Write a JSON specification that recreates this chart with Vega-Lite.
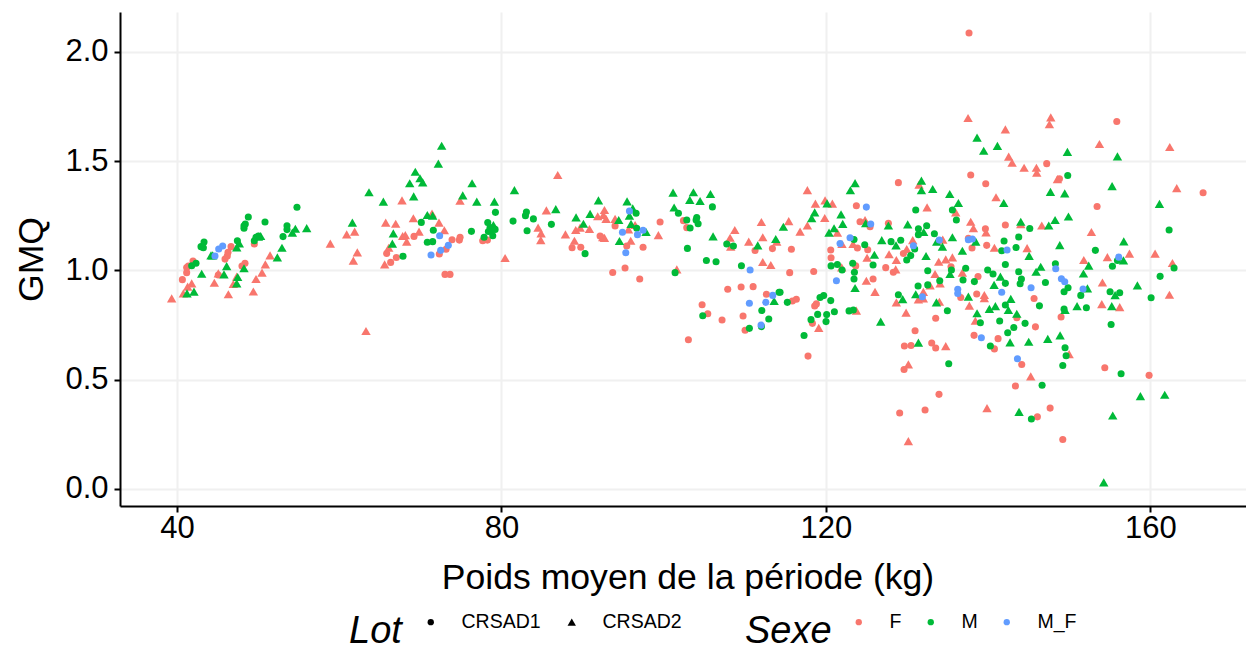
{"$schema":"https://vega.github.io/schema/vega-lite/v6.json","width":1126,"height":494,"autosize":{"type":"none"},"padding":{"left":120,"top":12,"right":0,"bottom":142},"background":"white","config":{"view":{"stroke":null},"font":"Liberation Sans"},
"data":{"values":[
{"x":39.34,"y":0.872,"lot":"CRSAD2","sexe":"F"},{"x":40.78,"y":0.895,"lot":"CRSAD2","sexe":"F"},{"x":41.31,"y":0.926,"lot":"CRSAD2","sexe":"F"},{"x":41.81,"y":0.941,"lot":"CRSAD2","sexe":"F"},{"x":44.6,"y":0.944,"lot":"CRSAD2","sexe":"F"},{"x":45.09,"y":0.987,"lot":"CRSAD2","sexe":"F"},{"x":46.33,"y":0.891,"lot":"CRSAD2","sexe":"F"},{"x":46.94,"y":0.938,"lot":"CRSAD2","sexe":"F"},{"x":47.36,"y":0.972,"lot":"CRSAD2","sexe":"F"},{"x":49.41,"y":0.904,"lot":"CRSAD2","sexe":"F"},{"x":49.74,"y":0.961,"lot":"CRSAD2","sexe":"F"},{"x":50.48,"y":0.99,"lot":"CRSAD2","sexe":"F"},{"x":50.89,"y":1.028,"lot":"CRSAD2","sexe":"F"},{"x":51.47,"y":1.069,"lot":"CRSAD2","sexe":"F"},{"x":58.9,"y":1.123,"lot":"CRSAD2","sexe":"F"},{"x":60.92,"y":1.165,"lot":"CRSAD2","sexe":"F"},{"x":61.9,"y":1.178,"lot":"CRSAD2","sexe":"F"},{"x":62.23,"y":1.083,"lot":"CRSAD2","sexe":"F"},{"x":61.74,"y":1.045,"lot":"CRSAD2","sexe":"F"},{"x":63.3,"y":0.723,"lot":"CRSAD2","sexe":"F"},{"x":65.6,"y":1.028,"lot":"CRSAD2","sexe":"F"},{"x":66.1,"y":1.104,"lot":"CRSAD2","sexe":"F"},{"x":65.73,"y":1.219,"lot":"CRSAD2","sexe":"F"},{"x":66.96,"y":1.214,"lot":"CRSAD2","sexe":"F"},{"x":67.74,"y":1.321,"lot":"CRSAD2","sexe":"F"},{"x":69.14,"y":1.239,"lot":"CRSAD2","sexe":"F"},{"x":67.82,"y":1.158,"lot":"CRSAD2","sexe":"F"},{"x":68.15,"y":1.162,"lot":"CRSAD2","sexe":"F"},{"x":68.32,"y":1.132,"lot":"CRSAD2","sexe":"F"},{"x":69.84,"y":1.178,"lot":"CRSAD2","sexe":"F"},{"x":71.44,"y":1.261,"lot":"CRSAD2","sexe":"F"},{"x":72.3,"y":1.219,"lot":"CRSAD2","sexe":"F"},{"x":72.96,"y":1.184,"lot":"CRSAD2","sexe":"F"},{"x":74.89,"y":1.319,"lot":"CRSAD2","sexe":"F"},
{"x":40.66,"y":0.958,"lot":"CRSAD1","sexe":"F"},{"x":41.19,"y":0.99,"lot":"CRSAD1","sexe":"F"},{"x":41.19,"y":1.014,"lot":"CRSAD1","sexe":"F"},{"x":41.4,"y":1.02,"lot":"CRSAD1","sexe":"F"},{"x":41.97,"y":1.043,"lot":"CRSAD1","sexe":"F"},{"x":45.09,"y":0.979,"lot":"CRSAD1","sexe":"F"},{"x":45.92,"y":1.052,"lot":"CRSAD1","sexe":"F"},{"x":46.2,"y":1.066,"lot":"CRSAD1","sexe":"F"},{"x":46.29,"y":1.083,"lot":"CRSAD1","sexe":"F"},{"x":46.66,"y":1.109,"lot":"CRSAD1","sexe":"F"},{"x":48.38,"y":1.033,"lot":"CRSAD1","sexe":"F"},{"x":48.01,"y":1.02,"lot":"CRSAD1","sexe":"F"},{"x":49.53,"y":1.121,"lot":"CRSAD1","sexe":"F"},{"x":65.85,"y":1.078,"lot":"CRSAD1","sexe":"F"},{"x":66.34,"y":1.037,"lot":"CRSAD1","sexe":"F"},{"x":67.04,"y":1.059,"lot":"CRSAD1","sexe":"F"},{"x":69.22,"y":1.156,"lot":"CRSAD1","sexe":"F"},{"x":72.34,"y":1.075,"lot":"CRSAD1","sexe":"F"},{"x":73.17,"y":1.097,"lot":"CRSAD1","sexe":"F"},{"x":73.91,"y":1.141,"lot":"CRSAD1","sexe":"F"},{"x":74.81,"y":1.139,"lot":"CRSAD1","sexe":"F"},{"x":73.04,"y":0.982,"lot":"CRSAD1","sexe":"F"},{"x":73.66,"y":0.982,"lot":"CRSAD1","sexe":"F"},
{"x":41.23,"y":0.895,"lot":"CRSAD2","sexe":"M"},{"x":42.09,"y":0.903,"lot":"CRSAD2","sexe":"M"},{"x":43.04,"y":0.985,"lot":"CRSAD2","sexe":"M"},{"x":44.19,"y":1.069,"lot":"CRSAD2","sexe":"M"},{"x":44.4,"y":1.069,"lot":"CRSAD2","sexe":"M"},{"x":45.79,"y":0.982,"lot":"CRSAD2","sexe":"M"},{"x":46.12,"y":1.02,"lot":"CRSAD2","sexe":"M"},{"x":47.36,"y":1.106,"lot":"CRSAD2","sexe":"M"},{"x":47.68,"y":1.124,"lot":"CRSAD2","sexe":"M"},{"x":47.36,"y":0.941,"lot":"CRSAD2","sexe":"M"},{"x":47.48,"y":0.97,"lot":"CRSAD2","sexe":"M"},{"x":48.26,"y":1.01,"lot":"CRSAD2","sexe":"M"},{"x":50.31,"y":1.158,"lot":"CRSAD2","sexe":"M"},{"x":50.03,"y":1.155,"lot":"CRSAD2","sexe":"M"},{"x":52.37,"y":1.06,"lot":"CRSAD2","sexe":"M"},{"x":52.94,"y":1.104,"lot":"CRSAD2","sexe":"M"},{"x":54.22,"y":1.173,"lot":"CRSAD2","sexe":"M"},{"x":54.59,"y":1.191,"lot":"CRSAD2","sexe":"M"},{"x":55.99,"y":1.194,"lot":"CRSAD2","sexe":"M"},{"x":61.62,"y":1.219,"lot":"CRSAD2","sexe":"M"},{"x":63.67,"y":1.358,"lot":"CRSAD2","sexe":"M"},{"x":65.44,"y":1.315,"lot":"CRSAD2","sexe":"M"},{"x":66.67,"y":1.17,"lot":"CRSAD2","sexe":"M"},{"x":66.55,"y":1.123,"lot":"CRSAD2","sexe":"M"},{"x":69.18,"y":1.339,"lot":"CRSAD2","sexe":"M"},{"x":68.69,"y":1.399,"lot":"CRSAD2","sexe":"M"},{"x":69.38,"y":1.452,"lot":"CRSAD2","sexe":"M"},{"x":69.96,"y":1.422,"lot":"CRSAD2","sexe":"M"},{"x":70.29,"y":1.403,"lot":"CRSAD2","sexe":"M"},{"x":72.22,"y":1.489,"lot":"CRSAD2","sexe":"M"},{"x":72.63,"y":1.571,"lot":"CRSAD2","sexe":"M"},{"x":70.86,"y":1.254,"lot":"CRSAD2","sexe":"M"},{"x":71.52,"y":1.251,"lot":"CRSAD2","sexe":"M"},
{"x":41.81,"y":1.022,"lot":"CRSAD1","sexe":"M"},{"x":42.34,"y":1.033,"lot":"CRSAD1","sexe":"M"},{"x":42.96,"y":1.109,"lot":"CRSAD1","sexe":"M"},{"x":43.25,"y":1.104,"lot":"CRSAD1","sexe":"M"},{"x":43.33,"y":1.13,"lot":"CRSAD1","sexe":"M"},{"x":47.44,"y":1.136,"lot":"CRSAD1","sexe":"M"},{"x":48.26,"y":1.193,"lot":"CRSAD1","sexe":"M"},{"x":48.26,"y":1.205,"lot":"CRSAD1","sexe":"M"},{"x":48.42,"y":1.213,"lot":"CRSAD1","sexe":"M"},{"x":48.79,"y":1.245,"lot":"CRSAD1","sexe":"M"},{"x":50.85,"y":1.222,"lot":"CRSAD1","sexe":"M"},{"x":49.53,"y":1.136,"lot":"CRSAD1","sexe":"M"},{"x":49.74,"y":1.152,"lot":"CRSAD1","sexe":"M"},{"x":50.03,"y":1.158,"lot":"CRSAD1","sexe":"M"},{"x":53.07,"y":1.155,"lot":"CRSAD1","sexe":"M"},{"x":53.56,"y":1.205,"lot":"CRSAD1","sexe":"M"},{"x":53.56,"y":1.187,"lot":"CRSAD1","sexe":"M"},{"x":54.79,"y":1.289,"lot":"CRSAD1","sexe":"M"},{"x":67.86,"y":1.065,"lot":"CRSAD1","sexe":"M"},{"x":70.12,"y":1.22,"lot":"CRSAD1","sexe":"M"},{"x":71.6,"y":1.184,"lot":"CRSAD1","sexe":"M"},{"x":70.86,"y":1.129,"lot":"CRSAD1","sexe":"M"},{"x":71.52,"y":1.132,"lot":"CRSAD1","sexe":"M"},
{"x":44.68,"y":1.066,"lot":"CRSAD1","sexe":"M_F"},{"x":45.14,"y":1.098,"lot":"CRSAD1","sexe":"M_F"},{"x":45.63,"y":1.112,"lot":"CRSAD1","sexe":"M_F"},{"x":71.32,"y":1.071,"lot":"CRSAD1","sexe":"M_F"},{"x":72.51,"y":1.092,"lot":"CRSAD1","sexe":"M_F"},{"x":73.45,"y":1.115,"lot":"CRSAD1","sexe":"M_F"},{"x":72.38,"y":1.159,"lot":"CRSAD1","sexe":"M_F"},
{"x":80.45,"y":1.057,"lot":"CRSAD2","sexe":"F"},{"x":86.94,"y":1.437,"lot":"CRSAD2","sexe":"F"},{"x":85.54,"y":1.275,"lot":"CRSAD2","sexe":"F"},{"x":84.52,"y":1.196,"lot":"CRSAD2","sexe":"F"},{"x":84.89,"y":1.17,"lot":"CRSAD2","sexe":"F"},{"x":84.85,"y":1.139,"lot":"CRSAD2","sexe":"F"},{"x":87.89,"y":1.165,"lot":"CRSAD2","sexe":"F"},{"x":89.0,"y":1.136,"lot":"CRSAD2","sexe":"F"},{"x":89.16,"y":1.185,"lot":"CRSAD2","sexe":"F"},{"x":89.7,"y":1.196,"lot":"CRSAD2","sexe":"F"},{"x":90.85,"y":1.19,"lot":"CRSAD2","sexe":"F"},{"x":91.87,"y":1.248,"lot":"CRSAD2","sexe":"F"},{"x":92.7,"y":1.277,"lot":"CRSAD2","sexe":"F"},{"x":92.57,"y":1.254,"lot":"CRSAD2","sexe":"F"},{"x":92.9,"y":1.236,"lot":"CRSAD2","sexe":"F"},{"x":94.01,"y":1.236,"lot":"CRSAD2","sexe":"F"},{"x":92.49,"y":1.152,"lot":"CRSAD2","sexe":"F"},{"x":92.7,"y":1.149,"lot":"CRSAD2","sexe":"F"},{"x":95.94,"y":1.136,"lot":"CRSAD2","sexe":"F"},{"x":95.66,"y":1.188,"lot":"CRSAD2","sexe":"F"},{"x":96.48,"y":1.208,"lot":"CRSAD2","sexe":"F"},{"x":99.35,"y":1.162,"lot":"CRSAD2","sexe":"F"},{"x":101.62,"y":1.005,"lot":"CRSAD2","sexe":"F"},{"x":108.27,"y":1.109,"lot":"CRSAD2","sexe":"F"},{"x":108.77,"y":1.185,"lot":"CRSAD2","sexe":"F"},{"x":108.19,"y":1.15,"lot":"CRSAD2","sexe":"F"},{"x":110.49,"y":1.132,"lot":"CRSAD2","sexe":"F"},{"x":112.05,"y":1.222,"lot":"CRSAD2","sexe":"F"},{"x":112.22,"y":1.152,"lot":"CRSAD2","sexe":"F"},{"x":112.22,"y":1.039,"lot":"CRSAD2","sexe":"F"},{"x":113.21,"y":1.025,"lot":"CRSAD2","sexe":"F"},{"x":113.94,"y":1.132,"lot":"CRSAD2","sexe":"F"},
{"x":74.9,"y":1.152,"lot":"CRSAD1","sexe":"F"},{"x":77.69,"y":1.136,"lot":"CRSAD1","sexe":"F"},{"x":78.27,"y":1.139,"lot":"CRSAD1","sexe":"F"},{"x":88.71,"y":1.104,"lot":"CRSAD1","sexe":"F"},{"x":89.78,"y":1.106,"lot":"CRSAD1","sexe":"F"},{"x":92.16,"y":1.158,"lot":"CRSAD1","sexe":"F"},{"x":94.01,"y":1.204,"lot":"CRSAD1","sexe":"F"},{"x":95.45,"y":1.112,"lot":"CRSAD1","sexe":"F"},{"x":97.46,"y":1.106,"lot":"CRSAD1","sexe":"F"},{"x":99.56,"y":1.222,"lot":"CRSAD1","sexe":"F"},{"x":102.44,"y":1.228,"lot":"CRSAD1","sexe":"F"},{"x":102.85,"y":1.196,"lot":"CRSAD1","sexe":"F"},{"x":93.72,"y":0.991,"lot":"CRSAD1","sexe":"F"},{"x":95.24,"y":1.011,"lot":"CRSAD1","sexe":"F"},{"x":97.05,"y":0.961,"lot":"CRSAD1","sexe":"F"},{"x":111.27,"y":1.091,"lot":"CRSAD1","sexe":"F"},{"x":113.41,"y":1.1,"lot":"CRSAD1","sexe":"F"},{"x":103.05,"y":0.683,"lot":"CRSAD1","sexe":"F"},{"x":104.74,"y":0.843,"lot":"CRSAD1","sexe":"F"},{"x":105.44,"y":0.802,"lot":"CRSAD1","sexe":"F"},{"x":107.2,"y":0.773,"lot":"CRSAD1","sexe":"F"},{"x":107.9,"y":0.914,"lot":"CRSAD1","sexe":"F"},{"x":109.55,"y":0.924,"lot":"CRSAD1","sexe":"F"},{"x":111.03,"y":0.926,"lot":"CRSAD1","sexe":"F"},{"x":109.79,"y":0.792,"lot":"CRSAD1","sexe":"F"},{"x":110.04,"y":0.726,"lot":"CRSAD1","sexe":"F"},{"x":112.67,"y":0.891,"lot":"CRSAD1","sexe":"F"},
{"x":75.23,"y":1.344,"lot":"CRSAD2","sexe":"M"},{"x":76.38,"y":1.399,"lot":"CRSAD2","sexe":"M"},{"x":76.96,"y":1.315,"lot":"CRSAD2","sexe":"M"},{"x":79.13,"y":1.315,"lot":"CRSAD2","sexe":"M"},{"x":81.6,"y":1.368,"lot":"CRSAD2","sexe":"M"},{"x":79.01,"y":1.208,"lot":"CRSAD2","sexe":"M"},{"x":86.7,"y":1.281,"lot":"CRSAD2","sexe":"M"},{"x":89.2,"y":1.243,"lot":"CRSAD2","sexe":"M"},{"x":90.11,"y":1.214,"lot":"CRSAD2","sexe":"M"},{"x":90.93,"y":1.259,"lot":"CRSAD2","sexe":"M"},{"x":91.96,"y":1.321,"lot":"CRSAD2","sexe":"M"},{"x":94.46,"y":1.231,"lot":"CRSAD2","sexe":"M"},{"x":95.49,"y":1.316,"lot":"CRSAD2","sexe":"M"},{"x":96.19,"y":1.284,"lot":"CRSAD2","sexe":"M"},{"x":95.78,"y":1.251,"lot":"CRSAD2","sexe":"M"},{"x":95.98,"y":1.213,"lot":"CRSAD2","sexe":"M"},{"x":94.55,"y":1.135,"lot":"CRSAD2","sexe":"M"},{"x":97.83,"y":1.176,"lot":"CRSAD2","sexe":"M"},{"x":101.16,"y":1.356,"lot":"CRSAD2","sexe":"M"},{"x":101.29,"y":1.288,"lot":"CRSAD2","sexe":"M"},{"x":103.67,"y":1.358,"lot":"CRSAD2","sexe":"M"},{"x":103.22,"y":1.323,"lot":"CRSAD2","sexe":"M"},{"x":104.49,"y":1.318,"lot":"CRSAD2","sexe":"M"},{"x":105.77,"y":1.35,"lot":"CRSAD2","sexe":"M"},{"x":106.09,"y":1.156,"lot":"CRSAD2","sexe":"M"},{"x":111.6,"y":1.115,"lot":"CRSAD2","sexe":"M"},{"x":113.82,"y":1.144,"lot":"CRSAD2","sexe":"M"},{"x":113.62,"y":0.86,"lot":"CRSAD2","sexe":"M"},
{"x":76.3,"y":1.179,"lot":"CRSAD1","sexe":"M"},{"x":77.86,"y":1.152,"lot":"CRSAD1","sexe":"M"},{"x":78.31,"y":1.219,"lot":"CRSAD1","sexe":"M"},{"x":78.6,"y":1.197,"lot":"CRSAD1","sexe":"M"},{"x":78.39,"y":1.178,"lot":"CRSAD1","sexe":"M"},{"x":78.8,"y":1.185,"lot":"CRSAD1","sexe":"M"},{"x":79.22,"y":1.188,"lot":"CRSAD1","sexe":"M"},{"x":78.93,"y":1.159,"lot":"CRSAD1","sexe":"M"},{"x":79.26,"y":1.266,"lot":"CRSAD1","sexe":"M"},{"x":81.43,"y":1.226,"lot":"CRSAD1","sexe":"M"},{"x":82.96,"y":1.251,"lot":"CRSAD1","sexe":"M"},{"x":83.08,"y":1.268,"lot":"CRSAD1","sexe":"M"},{"x":83.16,"y":1.182,"lot":"CRSAD1","sexe":"M"},{"x":83.94,"y":1.236,"lot":"CRSAD1","sexe":"M"},{"x":86.16,"y":1.211,"lot":"CRSAD1","sexe":"M"},{"x":90.31,"y":1.077,"lot":"CRSAD1","sexe":"M"},{"x":96.6,"y":1.262,"lot":"CRSAD1","sexe":"M"},{"x":96.68,"y":1.193,"lot":"CRSAD1","sexe":"M"},{"x":101.82,"y":1.262,"lot":"CRSAD1","sexe":"M"},{"x":102.85,"y":1.231,"lot":"CRSAD1","sexe":"M"},{"x":103.26,"y":1.194,"lot":"CRSAD1","sexe":"M"},{"x":104.08,"y":1.242,"lot":"CRSAD1","sexe":"M"},{"x":104.0,"y":1.231,"lot":"CRSAD1","sexe":"M"},{"x":104.25,"y":1.214,"lot":"CRSAD1","sexe":"M"},{"x":102.93,"y":1.101,"lot":"CRSAD1","sexe":"M"},{"x":105.27,"y":1.046,"lot":"CRSAD1","sexe":"M"},{"x":106.46,"y":1.04,"lot":"CRSAD1","sexe":"M"},{"x":106.01,"y":1.291,"lot":"CRSAD1","sexe":"M"},{"x":107.78,"y":1.121,"lot":"CRSAD1","sexe":"M"},{"x":108.6,"y":1.112,"lot":"CRSAD1","sexe":"M"},{"x":109.59,"y":1.022,"lot":"CRSAD1","sexe":"M"},{"x":101.41,"y":0.99,"lot":"CRSAD1","sexe":"M"},{"x":114.23,"y":0.9,"lot":"CRSAD1","sexe":"M"},{"x":104.82,"y":0.793,"lot":"CRSAD1","sexe":"M"},{"x":112.1,"y":0.817,"lot":"CRSAD1","sexe":"M"},{"x":112.96,"y":0.778,"lot":"CRSAD1","sexe":"M"},{"x":110.57,"y":0.735,"lot":"CRSAD1","sexe":"M"},{"x":112.05,"y":0.743,"lot":"CRSAD1","sexe":"M"},
{"x":95.78,"y":1.272,"lot":"CRSAD1","sexe":"M_F"},{"x":94.92,"y":1.175,"lot":"CRSAD1","sexe":"M_F"},{"x":96.77,"y":1.164,"lot":"CRSAD1","sexe":"M_F"},{"x":97.46,"y":1.184,"lot":"CRSAD1","sexe":"M_F"},{"x":95.33,"y":1.081,"lot":"CRSAD1","sexe":"M_F"},{"x":110.66,"y":1.002,"lot":"CRSAD1","sexe":"M_F"},{"x":113.45,"y":0.886,"lot":"CRSAD1","sexe":"M_F"},{"x":112.59,"y":0.854,"lot":"CRSAD1","sexe":"M_F"},{"x":110.57,"y":0.85,"lot":"CRSAD1","sexe":"M_F"},{"x":112.01,"y":0.75,"lot":"CRSAD1","sexe":"M_F"},
{"x":117.72,"y":1.368,"lot":"CRSAD2","sexe":"F"},{"x":118.71,"y":1.306,"lot":"CRSAD2","sexe":"F"},{"x":119.9,"y":1.321,"lot":"CRSAD2","sexe":"F"},{"x":120.8,"y":1.306,"lot":"CRSAD2","sexe":"F"},{"x":119.86,"y":1.24,"lot":"CRSAD2","sexe":"F"},{"x":117.72,"y":1.206,"lot":"CRSAD2","sexe":"F"},{"x":115.42,"y":1.226,"lot":"CRSAD2","sexe":"F"},{"x":116.82,"y":1.178,"lot":"CRSAD2","sexe":"F"},{"x":121.42,"y":1.173,"lot":"CRSAD2","sexe":"F"},{"x":121.99,"y":1.121,"lot":"CRSAD2","sexe":"F"},{"x":123.35,"y":1.121,"lot":"CRSAD2","sexe":"F"},{"x":124.83,"y":1.231,"lot":"CRSAD2","sexe":"F"},{"x":125.08,"y":1.058,"lot":"CRSAD2","sexe":"F"},{"x":127.79,"y":1.074,"lot":"CRSAD2","sexe":"F"},{"x":128.69,"y":1.048,"lot":"CRSAD2","sexe":"F"},{"x":129.97,"y":1.098,"lot":"CRSAD2","sexe":"F"},{"x":130.71,"y":1.139,"lot":"CRSAD2","sexe":"F"},{"x":131.49,"y":1.393,"lot":"CRSAD2","sexe":"F"},{"x":132.48,"y":1.289,"lot":"CRSAD2","sexe":"F"},{"x":134.41,"y":1.141,"lot":"CRSAD2","sexe":"F"},{"x":136.01,"y":1.266,"lot":"CRSAD2","sexe":"F"},{"x":137.86,"y":1.223,"lot":"CRSAD2","sexe":"F"},{"x":138.19,"y":1.193,"lot":"CRSAD2","sexe":"F"},{"x":139.75,"y":1.174,"lot":"CRSAD2","sexe":"F"},{"x":140.78,"y":1.104,"lot":"CRSAD2","sexe":"F"},{"x":140.98,"y":1.335,"lot":"CRSAD2","sexe":"F"},{"x":137.53,"y":1.698,"lot":"CRSAD2","sexe":"F"},{"x":142.13,"y":1.646,"lot":"CRSAD2","sexe":"F"},{"x":142.54,"y":1.521,"lot":"CRSAD2","sexe":"F"},{"x":134.78,"y":1.051,"lot":"CRSAD2","sexe":"F"},{"x":133.91,"y":1.04,"lot":"CRSAD2","sexe":"F"},{"x":135.6,"y":1.06,"lot":"CRSAD2","sexe":"F"},
{"x":137.65,"y":2.087,"lot":"CRSAD1","sexe":"F"},{"x":128.94,"y":1.402,"lot":"CRSAD1","sexe":"F"},{"x":137.86,"y":1.437,"lot":"CRSAD1","sexe":"F"},{"x":139.71,"y":1.397,"lot":"CRSAD1","sexe":"F"},{"x":123.76,"y":1.296,"lot":"CRSAD1","sexe":"F"},{"x":124.21,"y":1.223,"lot":"CRSAD1","sexe":"F"},{"x":127.71,"y":1.216,"lot":"CRSAD1","sexe":"F"},{"x":125.45,"y":1.2,"lot":"CRSAD1","sexe":"F"},{"x":115.75,"y":1.097,"lot":"CRSAD1","sexe":"F"},{"x":120.6,"y":1.094,"lot":"CRSAD1","sexe":"F"},{"x":120.64,"y":1.058,"lot":"CRSAD1","sexe":"F"},{"x":123.89,"y":1.103,"lot":"CRSAD1","sexe":"F"},{"x":125.16,"y":1.095,"lot":"CRSAD1","sexe":"F"},{"x":129.56,"y":1.078,"lot":"CRSAD1","sexe":"F"},{"x":139.67,"y":1.191,"lot":"CRSAD1","sexe":"F"},{"x":139.83,"y":1.115,"lot":"CRSAD1","sexe":"F"},{"x":138.02,"y":1.103,"lot":"CRSAD1","sexe":"F"},{"x":142.13,"y":1.208,"lot":"CRSAD1","sexe":"F"},{"x":137.57,"y":1.147,"lot":"CRSAD1","sexe":"F"},
{"x":114.76,"y":1.2,"lot":"CRSAD2","sexe":"M"},{"x":118.25,"y":1.239,"lot":"CRSAD2","sexe":"M"},{"x":118.62,"y":1.266,"lot":"CRSAD2","sexe":"M"},{"x":120.15,"y":1.307,"lot":"CRSAD2","sexe":"M"},{"x":121.87,"y":1.257,"lot":"CRSAD2","sexe":"M"},{"x":122.08,"y":1.213,"lot":"CRSAD2","sexe":"M"},{"x":120.39,"y":1.173,"lot":"CRSAD2","sexe":"M"},{"x":121.01,"y":1.193,"lot":"CRSAD2","sexe":"M"},{"x":123.6,"y":1.4,"lot":"CRSAD2","sexe":"M"},{"x":123.02,"y":1.367,"lot":"CRSAD2","sexe":"M"},{"x":124.91,"y":1.216,"lot":"CRSAD2","sexe":"M"},{"x":126.89,"y":1.139,"lot":"CRSAD2","sexe":"M"},{"x":127.71,"y":1.206,"lot":"CRSAD2","sexe":"M"},{"x":128.65,"y":1.115,"lot":"CRSAD2","sexe":"M"},{"x":130.09,"y":1.211,"lot":"CRSAD2","sexe":"M"},{"x":132.06,"y":1.176,"lot":"CRSAD2","sexe":"M"},{"x":131.78,"y":1.411,"lot":"CRSAD2","sexe":"M"},{"x":131.78,"y":1.367,"lot":"CRSAD2","sexe":"M"},{"x":133.17,"y":1.373,"lot":"CRSAD2","sexe":"M"},{"x":135.27,"y":1.35,"lot":"CRSAD2","sexe":"M"},{"x":136.34,"y":1.309,"lot":"CRSAD2","sexe":"M"},{"x":138.64,"y":1.608,"lot":"CRSAD2","sexe":"M"},{"x":139.46,"y":1.548,"lot":"CRSAD2","sexe":"M"},{"x":141.15,"y":1.57,"lot":"CRSAD2","sexe":"M"},{"x":141.93,"y":1.309,"lot":"CRSAD2","sexe":"M"},{"x":133.67,"y":1.132,"lot":"CRSAD2","sexe":"M"},{"x":134.37,"y":1.109,"lot":"CRSAD2","sexe":"M"},{"x":135.6,"y":1.152,"lot":"CRSAD2","sexe":"M"},{"x":132.35,"y":1.066,"lot":"CRSAD2","sexe":"M"},{"x":136.83,"y":1.09,"lot":"CRSAD2","sexe":"M"},{"x":138.48,"y":1.132,"lot":"CRSAD2","sexe":"M"},{"x":125.98,"y":1.072,"lot":"CRSAD2","sexe":"M"},
{"x":131.08,"y":1.277,"lot":"CRSAD1","sexe":"M"},{"x":135.6,"y":1.277,"lot":"CRSAD1","sexe":"M"},{"x":136.09,"y":1.231,"lot":"CRSAD1","sexe":"M"},{"x":131.41,"y":1.191,"lot":"CRSAD1","sexe":"M"},{"x":132.43,"y":1.205,"lot":"CRSAD1","sexe":"M"},{"x":131.41,"y":1.164,"lot":"CRSAD1","sexe":"M"},{"x":133.38,"y":1.168,"lot":"CRSAD1","sexe":"M"},{"x":128.04,"y":1.132,"lot":"CRSAD1","sexe":"M"},{"x":129.23,"y":1.138,"lot":"CRSAD1","sexe":"M"},{"x":124.79,"y":1.118,"lot":"CRSAD1","sexe":"M"},{"x":123.47,"y":1.142,"lot":"CRSAD1","sexe":"M"},{"x":130.95,"y":1.098,"lot":"CRSAD1","sexe":"M"},{"x":130.46,"y":1.068,"lot":"CRSAD1","sexe":"M"},{"x":129.97,"y":1.048,"lot":"CRSAD1","sexe":"M"},{"x":141.97,"y":1.135,"lot":"CRSAD1","sexe":"M"},{"x":141.68,"y":1.09,"lot":"CRSAD1","sexe":"M"},
{"x":124.99,"y":1.29,"lot":"CRSAD1","sexe":"M_F"},{"x":125.53,"y":1.213,"lot":"CRSAD1","sexe":"M_F"},{"x":122.98,"y":1.15,"lot":"CRSAD1","sexe":"M_F"},{"x":121.75,"y":1.123,"lot":"CRSAD1","sexe":"M_F"},{"x":130.79,"y":1.113,"lot":"CRSAD1","sexe":"M_F"},{"x":133.99,"y":1.139,"lot":"CRSAD1","sexe":"M_F"},{"x":137.57,"y":1.141,"lot":"CRSAD1","sexe":"M_F"},{"x":138.06,"y":1.144,"lot":"CRSAD1","sexe":"M_F"},{"x":142.34,"y":1.094,"lot":"CRSAD1","sexe":"M_F"},
{"x":121.95,"y":1.014,"lot":"CRSAD2","sexe":"F"},{"x":124.99,"y":0.953,"lot":"CRSAD2","sexe":"F"},{"x":126.06,"y":0.902,"lot":"CRSAD2","sexe":"F"},{"x":128.61,"y":1.005,"lot":"CRSAD2","sexe":"F"},{"x":133.46,"y":0.984,"lot":"CRSAD2","sexe":"F"},{"x":132.02,"y":0.902,"lot":"CRSAD2","sexe":"F"},{"x":132.85,"y":0.932,"lot":"CRSAD2","sexe":"F"},{"x":134.08,"y":0.941,"lot":"CRSAD2","sexe":"F"},{"x":131.41,"y":0.868,"lot":"CRSAD2","sexe":"F"},{"x":132.02,"y":0.872,"lot":"CRSAD2","sexe":"F"},{"x":128.69,"y":0.854,"lot":"CRSAD2","sexe":"F"},{"x":129.89,"y":0.807,"lot":"CRSAD2","sexe":"F"},{"x":134.0,"y":0.857,"lot":"CRSAD2","sexe":"F"},{"x":136.83,"y":0.99,"lot":"CRSAD2","sexe":"F"},{"x":139.54,"y":0.888,"lot":"CRSAD2","sexe":"F"},{"x":139.54,"y":0.873,"lot":"CRSAD2","sexe":"F"},{"x":137.69,"y":0.839,"lot":"CRSAD2","sexe":"F"},{"x":138.43,"y":0.77,"lot":"CRSAD2","sexe":"F"},{"x":123.76,"y":0.816,"lot":"CRSAD2","sexe":"F"},{"x":119.12,"y":0.737,"lot":"CRSAD2","sexe":"F"},{"x":134.78,"y":0.654,"lot":"CRSAD2","sexe":"F"},{"x":130.17,"y":0.57,"lot":"CRSAD2","sexe":"F"},{"x":139.87,"y":0.37,"lot":"CRSAD2","sexe":"F"},{"x":130.17,"y":0.219,"lot":"CRSAD2","sexe":"F"},
{"x":115.54,"y":0.99,"lot":"CRSAD1","sexe":"F"},{"x":118.5,"y":0.995,"lot":"CRSAD1","sexe":"F"},{"x":123.68,"y":1.021,"lot":"CRSAD1","sexe":"F"},{"x":125.82,"y":0.961,"lot":"CRSAD1","sexe":"F"},{"x":127.38,"y":1.013,"lot":"CRSAD1","sexe":"F"},{"x":128.32,"y":0.992,"lot":"CRSAD1","sexe":"F"},{"x":135.43,"y":1.017,"lot":"CRSAD1","sexe":"F"},{"x":138.76,"y":0.972,"lot":"CRSAD1","sexe":"F"},{"x":138.6,"y":0.892,"lot":"CRSAD1","sexe":"F"},{"x":136.63,"y":0.876,"lot":"CRSAD1","sexe":"F"},{"x":115.87,"y":0.86,"lot":"CRSAD1","sexe":"F"},{"x":116.36,"y":0.868,"lot":"CRSAD1","sexe":"F"},{"x":118.62,"y":0.837,"lot":"CRSAD1","sexe":"F"},{"x":118.83,"y":0.847,"lot":"CRSAD1","sexe":"F"},{"x":118.34,"y":0.758,"lot":"CRSAD1","sexe":"F"},{"x":117.8,"y":0.608,"lot":"CRSAD1","sexe":"F"},{"x":133.54,"y":0.781,"lot":"CRSAD1","sexe":"F"},{"x":131.0,"y":0.724,"lot":"CRSAD1","sexe":"F"},{"x":129.68,"y":0.654,"lot":"CRSAD1","sexe":"F"},{"x":130.5,"y":0.657,"lot":"CRSAD1","sexe":"F"},{"x":133.05,"y":0.668,"lot":"CRSAD1","sexe":"F"},{"x":133.54,"y":0.645,"lot":"CRSAD1","sexe":"F"},{"x":138.27,"y":0.703,"lot":"CRSAD1","sexe":"F"},{"x":141.23,"y":0.688,"lot":"CRSAD1","sexe":"F"},{"x":140.78,"y":0.641,"lot":"CRSAD1","sexe":"F"},{"x":129.64,"y":0.547,"lot":"CRSAD1","sexe":"F"},{"x":133.95,"y":0.433,"lot":"CRSAD1","sexe":"F"},{"x":132.23,"y":0.361,"lot":"CRSAD1","sexe":"F"},{"x":129.1,"y":0.348,"lot":"CRSAD1","sexe":"F"},
{"x":123.6,"y":0.92,"lot":"CRSAD2","sexe":"M"},{"x":126.76,"y":0.766,"lot":"CRSAD2","sexe":"M"},{"x":129.47,"y":0.869,"lot":"CRSAD2","sexe":"M"},{"x":131.08,"y":0.891,"lot":"CRSAD2","sexe":"M"},{"x":133.63,"y":0.854,"lot":"CRSAD2","sexe":"M"},{"x":131.41,"y":0.67,"lot":"CRSAD2","sexe":"M"},{"x":135.31,"y":0.984,"lot":"CRSAD2","sexe":"M"},{"x":137.57,"y":0.88,"lot":"CRSAD2","sexe":"M"},{"x":138.64,"y":0.804,"lot":"CRSAD2","sexe":"M"},{"x":140.74,"y":0.934,"lot":"CRSAD2","sexe":"M"},{"x":141.52,"y":0.972,"lot":"CRSAD2","sexe":"M"},{"x":140.16,"y":0.824,"lot":"CRSAD2","sexe":"M"},{"x":140.9,"y":0.837,"lot":"CRSAD2","sexe":"M"},{"x":142.5,"y":0.819,"lot":"CRSAD2","sexe":"M"},{"x":142.71,"y":0.671,"lot":"CRSAD2","sexe":"M"},
{"x":114.35,"y":0.9,"lot":"CRSAD1","sexe":"M"},{"x":115.25,"y":0.854,"lot":"CRSAD1","sexe":"M"},{"x":119.28,"y":0.876,"lot":"CRSAD1","sexe":"M"},{"x":119.73,"y":0.885,"lot":"CRSAD1","sexe":"M"},{"x":120.6,"y":0.862,"lot":"CRSAD1","sexe":"M"},{"x":118.99,"y":0.799,"lot":"CRSAD1","sexe":"M"},{"x":120.1,"y":0.798,"lot":"CRSAD1","sexe":"M"},{"x":121.05,"y":0.811,"lot":"CRSAD1","sexe":"M"},{"x":120.02,"y":0.766,"lot":"CRSAD1","sexe":"M"},{"x":118.17,"y":0.775,"lot":"CRSAD1","sexe":"M"},{"x":117.31,"y":0.702,"lot":"CRSAD1","sexe":"M"},{"x":120.64,"y":1.021,"lot":"CRSAD1","sexe":"M"},{"x":121.42,"y":1.027,"lot":"CRSAD1","sexe":"M"},{"x":122.0,"y":1.002,"lot":"CRSAD1","sexe":"M"},{"x":123.31,"y":1.033,"lot":"CRSAD1","sexe":"M"},{"x":123.52,"y":0.992,"lot":"CRSAD1","sexe":"M"},{"x":123.47,"y":0.961,"lot":"CRSAD1","sexe":"M"},{"x":125.82,"y":1.025,"lot":"CRSAD1","sexe":"M"},{"x":122.86,"y":0.815,"lot":"CRSAD1","sexe":"M"},{"x":123.39,"y":0.819,"lot":"CRSAD1","sexe":"M"},{"x":128.94,"y":0.889,"lot":"CRSAD1","sexe":"M"},{"x":132.56,"y":0.999,"lot":"CRSAD1","sexe":"M"},{"x":135.48,"y":1.002,"lot":"CRSAD1","sexe":"M"},{"x":137.24,"y":1.01,"lot":"CRSAD1","sexe":"M"},{"x":139.95,"y":1.002,"lot":"CRSAD1","sexe":"M"},{"x":140.61,"y":0.984,"lot":"CRSAD1","sexe":"M"},{"x":136.91,"y":0.956,"lot":"CRSAD1","sexe":"M"},{"x":138.31,"y":0.949,"lot":"CRSAD1","sexe":"M"},{"x":134.04,"y":0.953,"lot":"CRSAD1","sexe":"M"},{"x":131.37,"y":0.929,"lot":"CRSAD1","sexe":"M"},{"x":132.56,"y":0.934,"lot":"CRSAD1","sexe":"M"},{"x":134.98,"y":0.816,"lot":"CRSAD1","sexe":"M"},{"x":139.05,"y":0.761,"lot":"CRSAD1","sexe":"M"},{"x":141.43,"y":0.769,"lot":"CRSAD1","sexe":"M"},{"x":140.28,"y":0.654,"lot":"CRSAD1","sexe":"M"},{"x":135.15,"y":0.573,"lot":"CRSAD1","sexe":"M"},{"x":142.13,"y":0.941,"lot":"CRSAD1","sexe":"M"},{"x":142.13,"y":1.027,"lot":"CRSAD1","sexe":"M"},{"x":142.13,"y":0.842,"lot":"CRSAD1","sexe":"M"},{"x":142.42,"y":0.715,"lot":"CRSAD1","sexe":"M"},
{"x":121.3,"y":0.953,"lot":"CRSAD1","sexe":"M_F"},{"x":131.9,"y":0.88,"lot":"CRSAD1","sexe":"M_F"},{"x":136.26,"y":0.914,"lot":"CRSAD1","sexe":"M_F"},{"x":136.26,"y":0.895,"lot":"CRSAD1","sexe":"M_F"},{"x":141.68,"y":0.9,"lot":"CRSAD1","sexe":"M_F"},{"x":139.17,"y":0.692,"lot":"CRSAD1","sexe":"M_F"},
{"x":147.73,"y":1.701,"lot":"CRSAD2","sexe":"F"},{"x":147.56,"y":1.669,"lot":"CRSAD2","sexe":"F"},{"x":153.73,"y":1.579,"lot":"CRSAD2","sexe":"F"},{"x":162.4,"y":1.565,"lot":"CRSAD2","sexe":"F"},{"x":142.96,"y":1.493,"lot":"CRSAD2","sexe":"F"},{"x":144.44,"y":1.47,"lot":"CRSAD2","sexe":"F"},{"x":145.96,"y":1.47,"lot":"CRSAD2","sexe":"F"},{"x":146.0,"y":1.447,"lot":"CRSAD2","sexe":"F"},{"x":148.55,"y":1.418,"lot":"CRSAD2","sexe":"F"},{"x":163.26,"y":1.377,"lot":"CRSAD2","sexe":"F"},{"x":144.03,"y":1.212,"lot":"CRSAD2","sexe":"F"},{"x":146.62,"y":1.206,"lot":"CRSAD2","sexe":"F"},{"x":152.74,"y":1.176,"lot":"CRSAD2","sexe":"F"},{"x":144.81,"y":1.102,"lot":"CRSAD2","sexe":"F"},{"x":154.71,"y":1.061,"lot":"CRSAD2","sexe":"F"},{"x":157.43,"y":1.077,"lot":"CRSAD2","sexe":"F"},{"x":160.59,"y":1.077,"lot":"CRSAD2","sexe":"F"},{"x":151.8,"y":1.048,"lot":"CRSAD2","sexe":"F"},{"x":162.73,"y":1.034,"lot":"CRSAD2","sexe":"F"},{"x":154.1,"y":0.945,"lot":"CRSAD2","sexe":"F"},{"x":154.02,"y":0.846,"lot":"CRSAD2","sexe":"F"},{"x":156.23,"y":0.832,"lot":"CRSAD2","sexe":"F"},{"x":162.36,"y":0.889,"lot":"CRSAD2","sexe":"F"},{"x":149.99,"y":0.617,"lot":"CRSAD2","sexe":"F"},{"x":145.26,"y":0.515,"lot":"CRSAD2","sexe":"F"},
{"x":155.87,"y":1.682,"lot":"CRSAD1","sexe":"F"},{"x":147.23,"y":1.489,"lot":"CRSAD1","sexe":"F"},{"x":148.8,"y":1.42,"lot":"CRSAD1","sexe":"F"},{"x":166.51,"y":1.356,"lot":"CRSAD1","sexe":"F"},{"x":153.44,"y":1.293,"lot":"CRSAD1","sexe":"F"},{"x":145.67,"y":0.872,"lot":"CRSAD1","sexe":"F"},{"x":143.54,"y":0.784,"lot":"CRSAD1","sexe":"F"},{"x":145.84,"y":0.742,"lot":"CRSAD1","sexe":"F"},{"x":149.0,"y":0.787,"lot":"CRSAD1","sexe":"F"},{"x":144.15,"y":0.57,"lot":"CRSAD1","sexe":"F"},{"x":154.39,"y":0.555,"lot":"CRSAD1","sexe":"F"},{"x":159.85,"y":0.52,"lot":"CRSAD1","sexe":"F"},{"x":143.37,"y":0.471,"lot":"CRSAD1","sexe":"F"},{"x":147.65,"y":0.37,"lot":"CRSAD1","sexe":"F"},{"x":146.08,"y":0.33,"lot":"CRSAD1","sexe":"F"},{"x":149.21,"y":0.226,"lot":"CRSAD1","sexe":"F"},
{"x":149.78,"y":1.543,"lot":"CRSAD2","sexe":"M"},{"x":155.95,"y":1.522,"lot":"CRSAD2","sexe":"M"},{"x":147.69,"y":1.36,"lot":"CRSAD2","sexe":"M"},{"x":149.45,"y":1.353,"lot":"CRSAD2","sexe":"M"},{"x":155.29,"y":1.386,"lot":"CRSAD2","sexe":"M"},{"x":161.13,"y":1.305,"lot":"CRSAD2","sexe":"M"},{"x":144.03,"y":1.223,"lot":"CRSAD2","sexe":"M"},{"x":148.26,"y":1.231,"lot":"CRSAD2","sexe":"M"},{"x":149.91,"y":1.247,"lot":"CRSAD2","sexe":"M"},{"x":147.48,"y":1.206,"lot":"CRSAD2","sexe":"M"},{"x":148.84,"y":1.116,"lot":"CRSAD2","sexe":"M"},{"x":145.06,"y":1.067,"lot":"CRSAD2","sexe":"M"},{"x":156.73,"y":1.133,"lot":"CRSAD2","sexe":"M"},{"x":156.69,"y":1.046,"lot":"CRSAD2","sexe":"M"},{"x":146.49,"y":1.017,"lot":"CRSAD2","sexe":"M"},{"x":145.92,"y":0.994,"lot":"CRSAD2","sexe":"M"},{"x":152.41,"y":1.022,"lot":"CRSAD2","sexe":"M"},{"x":151.76,"y":0.986,"lot":"CRSAD2","sexe":"M"},{"x":152.25,"y":0.918,"lot":"CRSAD2","sexe":"M"},{"x":158.41,"y":0.932,"lot":"CRSAD2","sexe":"M"},{"x":155.66,"y":0.887,"lot":"CRSAD2","sexe":"M"},{"x":155.25,"y":0.837,"lot":"CRSAD2","sexe":"M"},{"x":150.97,"y":0.837,"lot":"CRSAD2","sexe":"M"},{"x":149.49,"y":0.819,"lot":"CRSAD2","sexe":"M"},{"x":142.8,"y":0.87,"lot":"CRSAD2","sexe":"M"},{"x":143.54,"y":0.802,"lot":"CRSAD2","sexe":"M"},{"x":145.01,"y":0.674,"lot":"CRSAD2","sexe":"M"},{"x":147.36,"y":0.687,"lot":"CRSAD2","sexe":"M"},{"x":148.88,"y":0.703,"lot":"CRSAD2","sexe":"M"},{"x":158.78,"y":0.425,"lot":"CRSAD2","sexe":"M"},{"x":161.78,"y":0.431,"lot":"CRSAD2","sexe":"M"},{"x":143.82,"y":0.353,"lot":"CRSAD2","sexe":"M"},{"x":155.37,"y":0.336,"lot":"CRSAD2","sexe":"M"},{"x":154.26,"y":0.03,"lot":"CRSAD2","sexe":"M"},
{"x":149.82,"y":1.435,"lot":"CRSAD1","sexe":"M"},{"x":145.14,"y":1.192,"lot":"CRSAD1","sexe":"M"},{"x":143.78,"y":1.153,"lot":"CRSAD1","sexe":"M"},{"x":143.45,"y":1.105,"lot":"CRSAD1","sexe":"M"},{"x":162.32,"y":1.185,"lot":"CRSAD1","sexe":"M"},{"x":153.23,"y":1.092,"lot":"CRSAD1","sexe":"M"},{"x":155.95,"y":1.046,"lot":"CRSAD1","sexe":"M"},{"x":155.33,"y":1.019,"lot":"CRSAD1","sexe":"M"},{"x":148.3,"y":1.031,"lot":"CRSAD1","sexe":"M"},{"x":143.78,"y":0.994,"lot":"CRSAD1","sexe":"M"},{"x":144.11,"y":0.961,"lot":"CRSAD1","sexe":"M"},{"x":143.95,"y":0.939,"lot":"CRSAD1","sexe":"M"},{"x":147.07,"y":0.945,"lot":"CRSAD1","sexe":"M"},{"x":149.37,"y":0.903,"lot":"CRSAD1","sexe":"M"},{"x":149.86,"y":0.921,"lot":"CRSAD1","sexe":"M"},{"x":155.04,"y":0.903,"lot":"CRSAD1","sexe":"M"},{"x":156.23,"y":0.898,"lot":"CRSAD1","sexe":"M"},{"x":151.43,"y":0.886,"lot":"CRSAD1","sexe":"M"},{"x":161.21,"y":0.973,"lot":"CRSAD1","sexe":"M"},{"x":162.93,"y":1.011,"lot":"CRSAD1","sexe":"M"},{"x":160.1,"y":0.875,"lot":"CRSAD1","sexe":"M"},{"x":146.33,"y":0.838,"lot":"CRSAD1","sexe":"M"},{"x":149.37,"y":0.823,"lot":"CRSAD1","sexe":"M"},{"x":152.12,"y":0.829,"lot":"CRSAD1","sexe":"M"},{"x":144.56,"y":0.758,"lot":"CRSAD1","sexe":"M"},{"x":143.17,"y":0.739,"lot":"CRSAD1","sexe":"M"},{"x":155.17,"y":0.753,"lot":"CRSAD1","sexe":"M"},{"x":149.49,"y":0.646,"lot":"CRSAD1","sexe":"M"},{"x":149.62,"y":0.61,"lot":"CRSAD1","sexe":"M"},{"x":149.21,"y":0.565,"lot":"CRSAD1","sexe":"M"},{"x":156.4,"y":0.527,"lot":"CRSAD1","sexe":"M"},{"x":146.66,"y":0.475,"lot":"CRSAD1","sexe":"M"},{"x":145.34,"y":0.32,"lot":"CRSAD1","sexe":"M"},
{"x":148.34,"y":1.008,"lot":"CRSAD1","sexe":"M_F"},{"x":149.04,"y":0.962,"lot":"CRSAD1","sexe":"M_F"},{"x":149.45,"y":0.948,"lot":"CRSAD1","sexe":"M_F"},{"x":145.3,"y":0.921,"lot":"CRSAD1","sexe":"M_F"},{"x":151.71,"y":0.915,"lot":"CRSAD1","sexe":"M_F"},{"x":156.11,"y":1.061,"lot":"CRSAD1","sexe":"M_F"},{"x":143.62,"y":0.596,"lot":"CRSAD1","sexe":"M_F"}
]},
"mark":{"type":"point","filled":true,"opacity":1,"size":50},
"encoding":{
"x":{"field":"x","type":"quantitative","title":"Poids moyen de la période (kg)","scale":{"domain":[32.97,171.8],"nice":false,"zero":false},"axis":{"values":[40,80,120,160],"format":"d","grid":true,"gridColor":"#f0f0f0","gridWidth":2,"domainColor":"black","domainWidth":2,"tickColor":"black","tickWidth":2,"tickSize":6,"labelFontSize":31,"labelColor":"black","labelFont":"Liberation Sans","labelPadding":1,"titleFontSize":35.6,"titleFontWeight":"normal","titleColor":"black","titleFont":"Liberation Sans","titlePadding":17,"titleX":567.5}},
"y":{"field":"y","type":"quantitative","title":"GMQ","scale":{"domain":[-0.078,2.183],"nice":false,"zero":false},"axis":{"values":[0,0.5,1,1.5,2],"format":".1f","grid":true,"gridColor":"#f0f0f0","gridWidth":2,"domainColor":"black","domainWidth":2,"tickColor":"black","tickWidth":2,"tickSize":6,"labelFontSize":31,"labelColor":"black","labelFont":"Liberation Sans","labelPadding":6,"titleFontSize":35.6,"titleFontWeight":"normal","titleColor":"black","titleFont":"Liberation Sans","titlePadding":15}},
"shape":{"field":"lot","type":"nominal","scale":{"domain":["CRSAD1","CRSAD2"],"range":["circle","M0,-1.15L1.33,1.15L-1.33,1.15Z"]},"legend":{"title":"Lot","orient":"none","legendX":229,"legendY":600,"direction":"horizontal","titleOrient":"left","titleBaseline":"line-top","titleLineHeight":20,"titleFontSize":38,"titleFontStyle":"italic","titleFontWeight":"normal","titleColor":"black","titleFont":"Liberation Sans","titlePadding":19,"labelFontSize":19.5,"labelFont":"Liberation Sans","labelColor":"black","labelOffset":21,"symbolSize":40,"symbolFillColor":"black","symbolStrokeColor":"black","symbolStrokeWidth":0,"columnPadding":21}},
"color":{"field":"sexe","type":"nominal","scale":{"domain":["F","M","M_F"],"range":["#F8766D","#00BA38","#619CFF"]},"legend":{"title":"Sexe","orient":"none","legendX":625,"legendY":600,"direction":"horizontal","titleOrient":"left","titleBaseline":"line-top","titleLineHeight":20,"titleFontSize":38,"titleFontStyle":"italic","titleFontWeight":"normal","titleColor":"black","titleFont":"Liberation Sans","titlePadding":17,"labelFontSize":19.5,"labelFont":"Liberation Sans","labelColor":"black","labelOffset":21,"symbolSize":40,"symbolType":"circle","columnPadding":19}}
}}
